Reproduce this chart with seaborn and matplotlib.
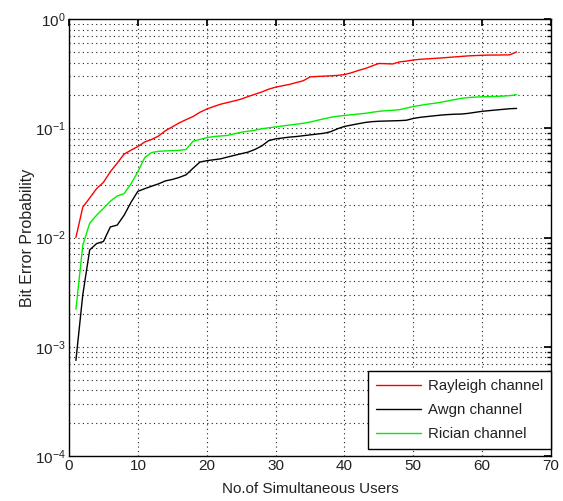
import numpy as np
import pandas as pd
import matplotlib
matplotlib.use("Agg")
import matplotlib.pyplot as plt
import seaborn as sns
from matplotlib.ticker import LogLocator, NullFormatter, MultipleLocator

users = list(range(1, 66))

rayleigh = [0.010, 0.019, 0.023, 0.028, 0.032, 0.040, 0.048, 0.058, 0.063, 0.068,
            0.075, 0.079, 0.085, 0.095, 0.103, 0.112, 0.120, 0.128, 0.140, 0.150,
            0.158, 0.166, 0.172, 0.178, 0.185, 0.195, 0.205, 0.215, 0.228, 0.238,
            0.245, 0.252, 0.262, 0.272, 0.295, 0.298, 0.300, 0.302, 0.305, 0.310,
            0.322, 0.338, 0.352, 0.372, 0.392, 0.390, 0.388, 0.405, 0.412, 0.422,
            0.428, 0.432, 0.436, 0.440, 0.445, 0.450, 0.455, 0.460, 0.463, 0.466,
            0.468, 0.468, 0.469, 0.470, 0.500]

awgn = [0.00075, 0.0030, 0.0077, 0.0088, 0.0092, 0.0125, 0.0130, 0.0160, 0.0210, 0.0265,
        0.0280, 0.0295, 0.0310, 0.0330, 0.0340, 0.0355, 0.0375, 0.0430, 0.0490, 0.0505,
        0.0515, 0.0525, 0.0545, 0.0565, 0.0585, 0.0605, 0.0640, 0.0690, 0.0770, 0.0800,
        0.0815, 0.0830, 0.0840, 0.0855, 0.0870, 0.0885, 0.0900, 0.0930, 0.0990, 0.1040,
        0.1070, 0.1100, 0.1130, 0.1150, 0.1160, 0.1165, 0.1170, 0.1175, 0.1185, 0.1230,
        0.1260, 0.1280, 0.1300, 0.1320, 0.1335, 0.1345, 0.1350, 0.1370, 0.1400, 0.1430,
        0.1450, 0.1470, 0.1490, 0.1510, 0.1520]

rician = [0.0022, 0.0085, 0.0135, 0.0160, 0.0185, 0.0215, 0.0240, 0.0252, 0.0310, 0.0400,
          0.0540, 0.0600, 0.0615, 0.0620, 0.0625, 0.0628, 0.0640, 0.0760, 0.0790, 0.0820,
          0.0840, 0.0850, 0.0860, 0.0890, 0.0920, 0.0940, 0.0960, 0.0990, 0.1010, 0.1030,
          0.1050, 0.1070, 0.1090, 0.1110, 0.1140, 0.1180, 0.1220, 0.1260, 0.1290, 0.1310,
          0.1330, 0.1350, 0.1370, 0.1400, 0.1430, 0.1450, 0.1460, 0.1480, 0.1530, 0.1580,
          0.1620, 0.1660, 0.1690, 0.1730, 0.1780, 0.1830, 0.1880, 0.1910, 0.1930, 0.1940,
          0.1950, 0.1960, 0.1970, 0.1990, 0.2030]

series_names = ["Rayleigh channel", "Awgn channel", "Rician channel"]
series_colors = ["#ff0000", "#000000", "#00ee00"]

df = pd.concat([
    pd.DataFrame({"users": users, "ber": vals, "channel": name})
    for name, vals in zip(series_names, [rayleigh, awgn, rician])
])

sns.set_theme(style="white")
plt.rcParams['font.family'] = ['Liberation Sans', 'DejaVu Sans']

fig = plt.figure(figsize=(5.63, 5.01), dpi=100)
ax = fig.add_axes([0.1226, 0.0898, 0.8561, 0.8722])

sns.lineplot(data=df, x="users", y="ber", hue="channel", hue_order=series_names,
             palette=dict(zip(series_names, series_colors)), linewidth=1.0, ax=ax)

ax.set_yscale("log")
ax.set_xlim(0, 70)
ax.set_ylim(1e-4, 1)
ax.xaxis.set_major_locator(MultipleLocator(10))
ax.yaxis.set_major_locator(LogLocator(base=10, numticks=10))
ax.yaxis.set_minor_locator(LogLocator(base=10, subs=np.arange(2, 10), numticks=20))
ax.yaxis.set_minor_formatter(NullFormatter())

ax.grid(True, which="major", linestyle=(0, (1, 3)), color="#222222", linewidth=0.8)
ax.grid(True, which="minor", axis="y", linestyle=(0, (1, 3)), color="#222222", linewidth=0.8)

for s in ax.spines.values():
    s.set_color("black")
    s.set_linewidth(1.0)

ax.tick_params(axis="both", which="both", direction="in", top=True, right=True,
               color="black", labelsize=11, labelcolor="#222222", pad=2.5)
ax.tick_params(axis="both", which="major", length=5)
ax.tick_params(axis="y", which="minor", length=3)

ax.set_xlabel("No.of Simultaneous Users", fontsize=11, color="#222222", labelpad=6)
ax.set_ylabel("Bit Error Probability", fontsize=11.5, color="#222222", labelpad=0)

leg = ax.legend(loc="lower right", bbox_to_anchor=(1.0, 0.016), borderaxespad=0.0,
                fancybox=False, edgecolor="black", framealpha=1.0, fontsize=10.8,
                handlelength=3.0, handletextpad=0.45, borderpad=0.55, labelspacing=0.65)
leg.get_frame().set_linewidth(1.0)
for t in leg.get_texts():
    t.set_color("#222222")

fig.savefig("out.png", dpi=100)
